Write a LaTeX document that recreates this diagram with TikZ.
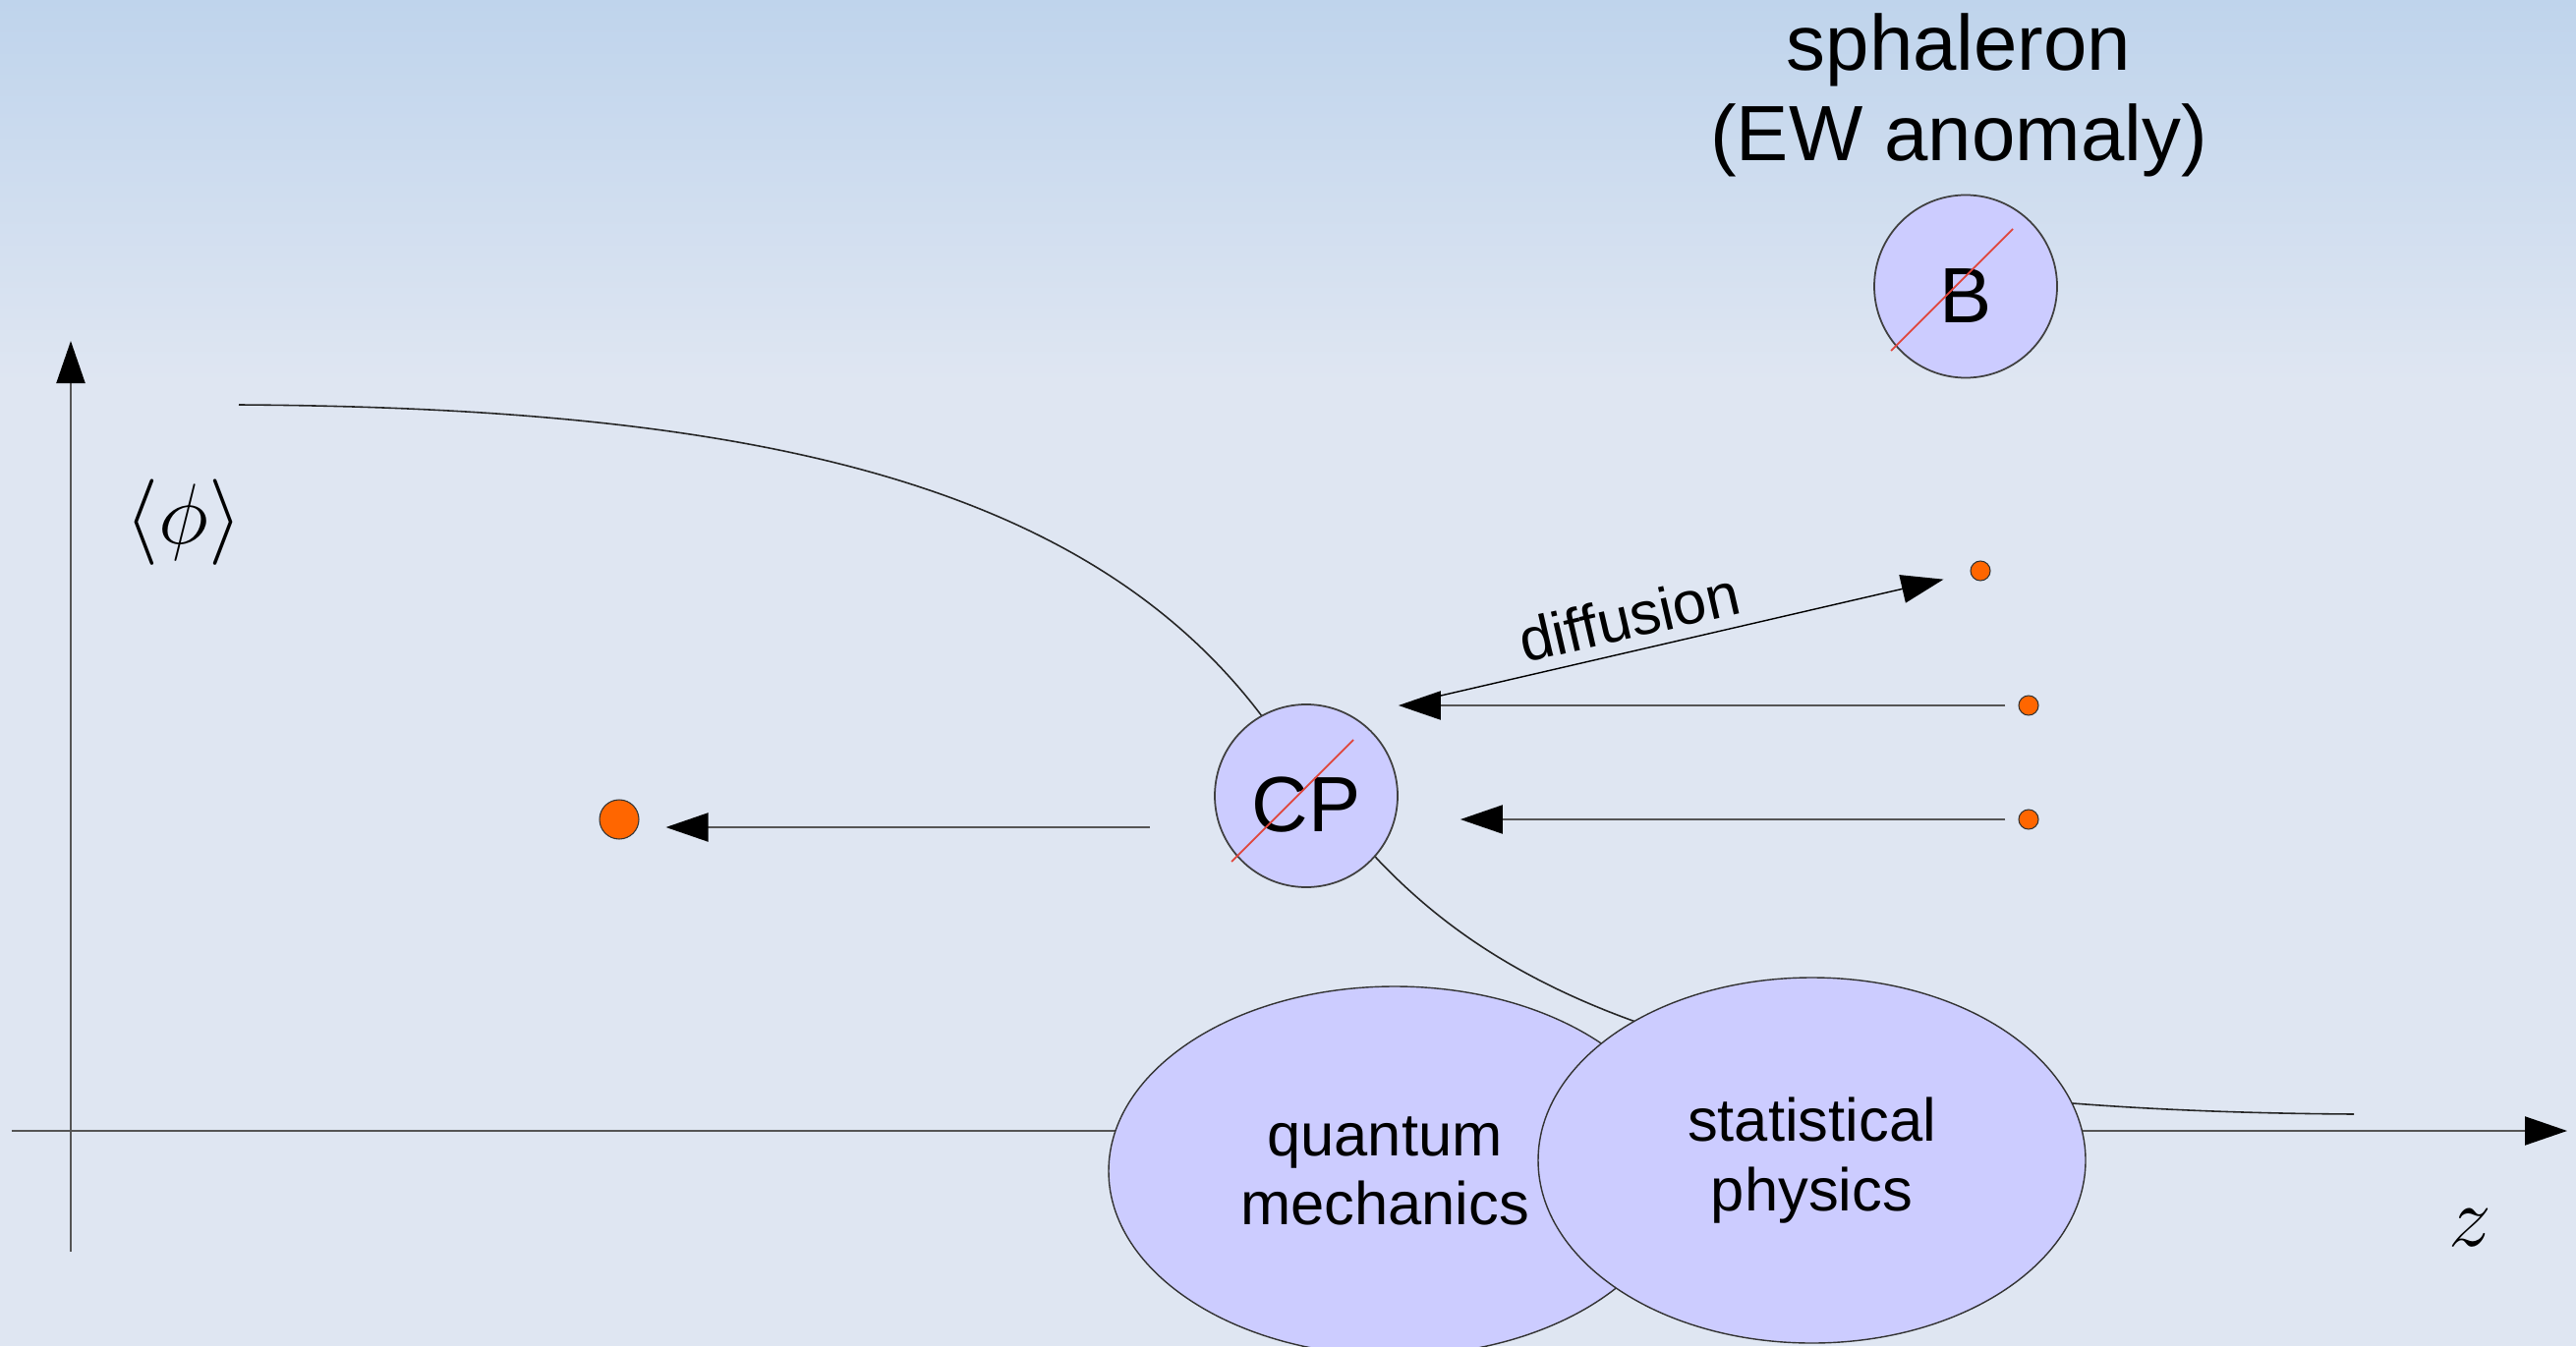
\documentclass[tikz,border=0pt]{standalone}
\usepackage{fontspec}
\setmainfont{Liberation Sans}
\usepackage{amsmath}
\usetikzlibrary{shapes.geometric,arrows.meta,positioning,calc}
\definecolor{bgtop}{HTML}{BFD4EC}
\definecolor{bgcol}{HTML}{DFE6F2}
\definecolor{blobcol}{HTML}{CCCCFF}
\definecolor{dotcol}{HTML}{FF6600}
\definecolor{slashcol}{HTML}{E0463C}
\definecolor{linecol}{HTML}{555555}

\begin{document}
\begin{tikzpicture}[
  blob/.style={draw=black!75, circle, minimum size=18.6mm, inner sep=0pt, fill=blobcol, line width=0.5pt, font=\fontsize{22.7}{26.2}\selectfont, text height=20.9pt, text depth=0pt},
  field/.style={draw=black!80, ellipse, fill=blobcol, line width=0.4pt, align=center, inner sep=0pt, font=\fontsize{17.5}{20}\selectfont},
  dot/.style={draw=black!80, circle, fill=dotcol, inner sep=0pt, minimum size=2mm, line width=0.3pt},
  flow/.style={-{Triangle[length=4.3mm, width=2.9mm, color=black]}, draw=linecol, line width=0.6pt},
  slash/.style={draw=slashcol, line width=0.5pt},
  big/.style={font=\fontsize{22.7}{26.2}\selectfont},
  mathlbl/.style={font=\fontsize{26}{30}\selectfont}
]
  \useasboundingbox (0,0) rectangle (26.21,13.70);

  % background
  \fill[bgcol] (0,0) rectangle (26.21,13.70);
  \shade[top color=bgtop, bottom color=bgcol] (0,9.8) rectangle (26.21,13.70);

  % axes
  \coordinate (ybot) at (0.72,0.96);
  \coordinate (ytop) at (0.72,10.23);
  \coordinate (xleft) at (0.12,2.19);
  \coordinate (xright) at (26.12,2.19);
  \draw[flow] (ybot) -- (ytop);
  \draw[flow] (xleft) -- (xright);
  \node[mathlbl] (phi) at (1.87,8.38) {$\langle\phi\rangle$};
  \node[mathlbl] (zlbl) at (25.13,1.20) {$z$};

  % wall profile
  \draw[black!85, line width=0.45pt] (2.43,9.58) .. controls (7.5,9.55) and (11.0,8.85) .. (12.84,6.41)
    -- (14.01,4.96) .. controls (15.3,3.6) and (17.5,2.4) .. (23.95,2.36);

  % fields
  \node[field, minimum width=5.82cm, minimum height=3.76cm] (qm) at (14.19,1.78) {quantum\hspace*{0.2cm}\\mechanics\hspace*{0.2cm}};
  \node[field, minimum width=5.57cm, minimum height=3.72cm] (sp) at (18.435,1.89) {statistical\\physics};

  % CP and B
  \node[blob] (cp) at (13.29,5.60) {CP};
  \node[blob] (b) at (20.00,10.785) {B};
  \draw[slash] ($(cp)+(-0.76,-0.67)$) -- ++(1.24,1.24);
  \draw[slash] ($(b)+(-0.76,-0.655)$) -- ++(1.24,1.24);
  \node[big, align=center, anchor=north, inner sep=0pt] (sph) at (19.93,13.57) {sphaleron\\(EW anomaly)};

  % particles
  \node[dot, minimum size=4mm] (ldot) at (6.30,5.36) {};
  \node[dot] (d1) at (20.15,7.89) {};
  \node[dot] (d2) at (20.64,6.52) {};
  \node[dot] (d3) at (20.64,5.36) {};

  % arrows
  \coordinate (larr) at (11.70,5.28);
  \coordinate (dstart) at (14.66,6.62);
  \draw[flow, shorten >=2.7mm] (larr) -- (larr -| ldot.east);
  \draw[flow, shorten <=1.3mm] (d2.west) -- (d2.west -| cp.east);
  \draw[flow, shorten <=1.3mm, shorten >=6.3mm] (d3.west) -- (d3.west -| cp.east);
  \draw[flow, draw=black, line width=0.4pt, shorten >=2.8mm] (dstart) -- (d1)
    node[pos=0.37, above, sloped, font=\fontsize{17.5}{20}\selectfont] {diffusion};
\end{tikzpicture}
\end{document}
